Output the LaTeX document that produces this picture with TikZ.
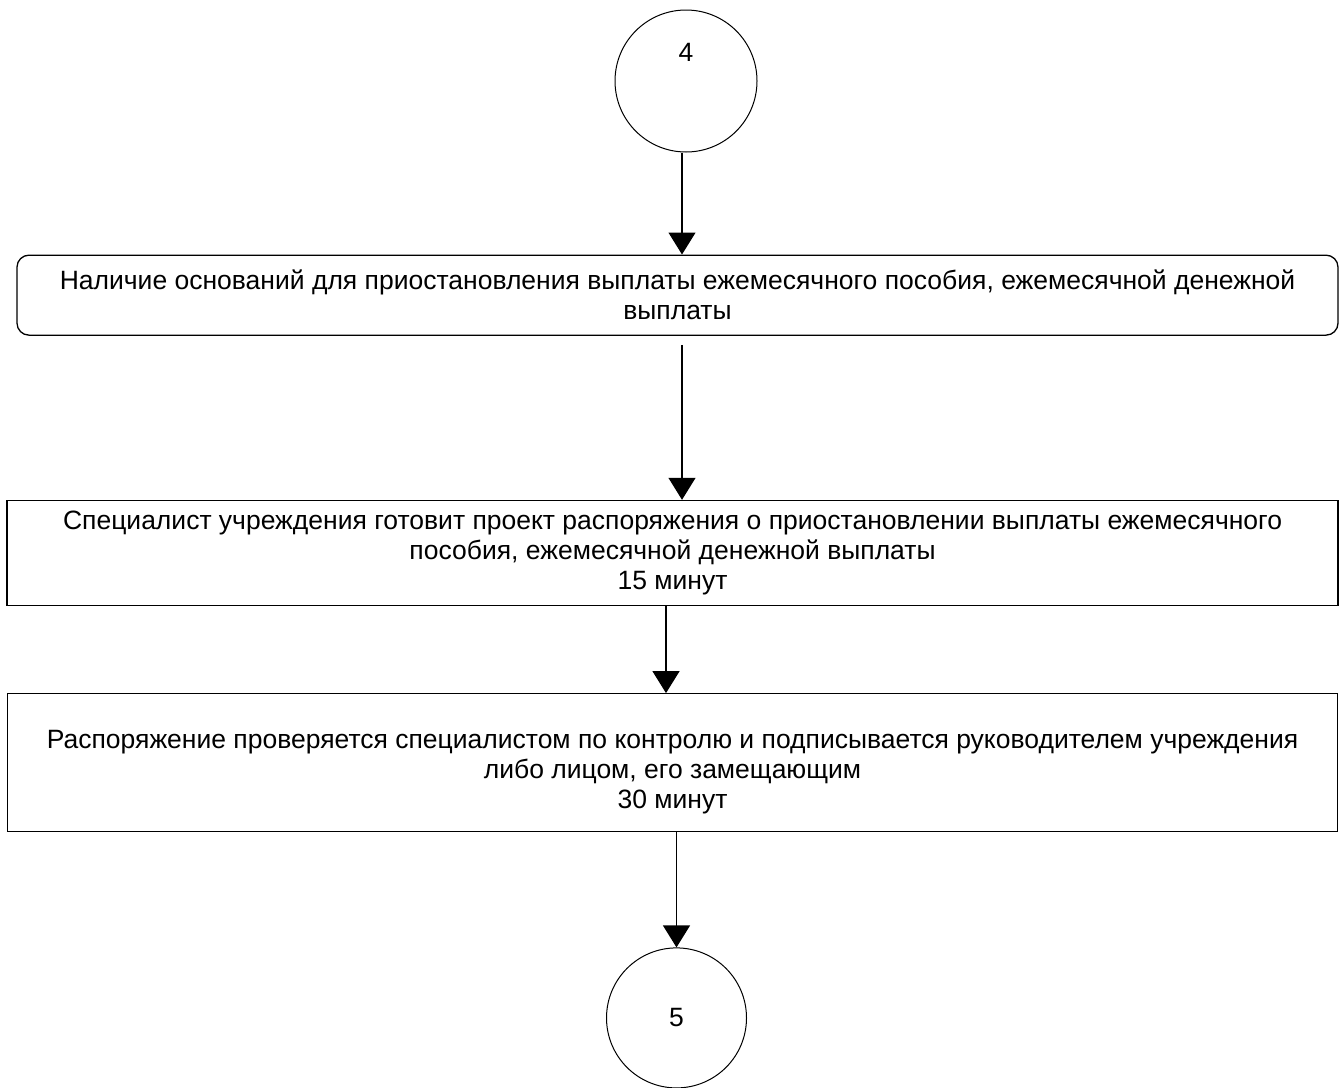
\documentclass[tikz,border=0pt]{standalone}
\usepackage{fontspec}
\setmainfont{Liberation Sans}
\usetikzlibrary{positioning, arrows.meta}

\begin{document}
\begin{tikzpicture}[
	x=1pt, y=-1pt,
	every node/.style={font=\fontsize{26.5}{30}\selectfont},
	stepcircle/.style={draw, circle, line width=1pt, inner sep=0pt},
	stepbox/.style={draw, rectangle, line width=1.3pt, align=center, inner sep=0pt},
	flow/.style={-{Triangle[width=27pt,length=22pt]}, line width=1.2pt}
	]
	\useasboundingbox (0,0) rectangle (1341,1087);
	% Nodes
	\node [stepcircle, minimum size=142pt] (C4) at (686,81) {\smash{\raisebox{20pt}{4}}};
	\node [stepbox, rounded corners=12pt, minimum width=1321pt, minimum height=80pt, below=102pt of C4, xshift=-8.5pt] (Box1)
		{Наличие оснований для приостановления выплаты ежемесячного пособия, ежемесячной денежной\\выплаты};
	\node [stepbox, minimum width=1331pt, minimum height=105pt, below=164pt of Box1, xshift=-5pt] (Box2)
		{Специалист учреждения готовит проект распоряжения о приостановлении выплаты ежемесячного\\пособия, ежемесячной денежной выплаты\\15 минут};
	\node [stepbox, minimum width=1330pt, minimum height=138pt, below=87pt of Box2] (Box3)
		{\rule{0pt}{37pt}Распоряжение проверяется специалистом по контролю и подписывается руководителем учреждения\\либо лицом, его замещающим\\30 минут};
	\node [stepcircle, minimum size=140pt, below=115pt of Box3, xshift=4pt] (C5) {5};
	
	% Edges
	\draw [flow] ([xshift=-4pt]C4.south) -- ([xshift=-4pt]C4.south |- Box1.north);
	\draw [flow] ([xshift=4.5pt,yshift=-9pt]Box1.south) -- ([xshift=4.5pt]Box1.south |- Box2.north);
	\draw [flow] ([xshift=-6.5pt]Box2.south) -- ([xshift=-6.5pt]Box2.south |- Box3.north);
	\draw [flow] (C5.north |- Box3.south) -- (C5.north);
\end{tikzpicture}
\end{document}
